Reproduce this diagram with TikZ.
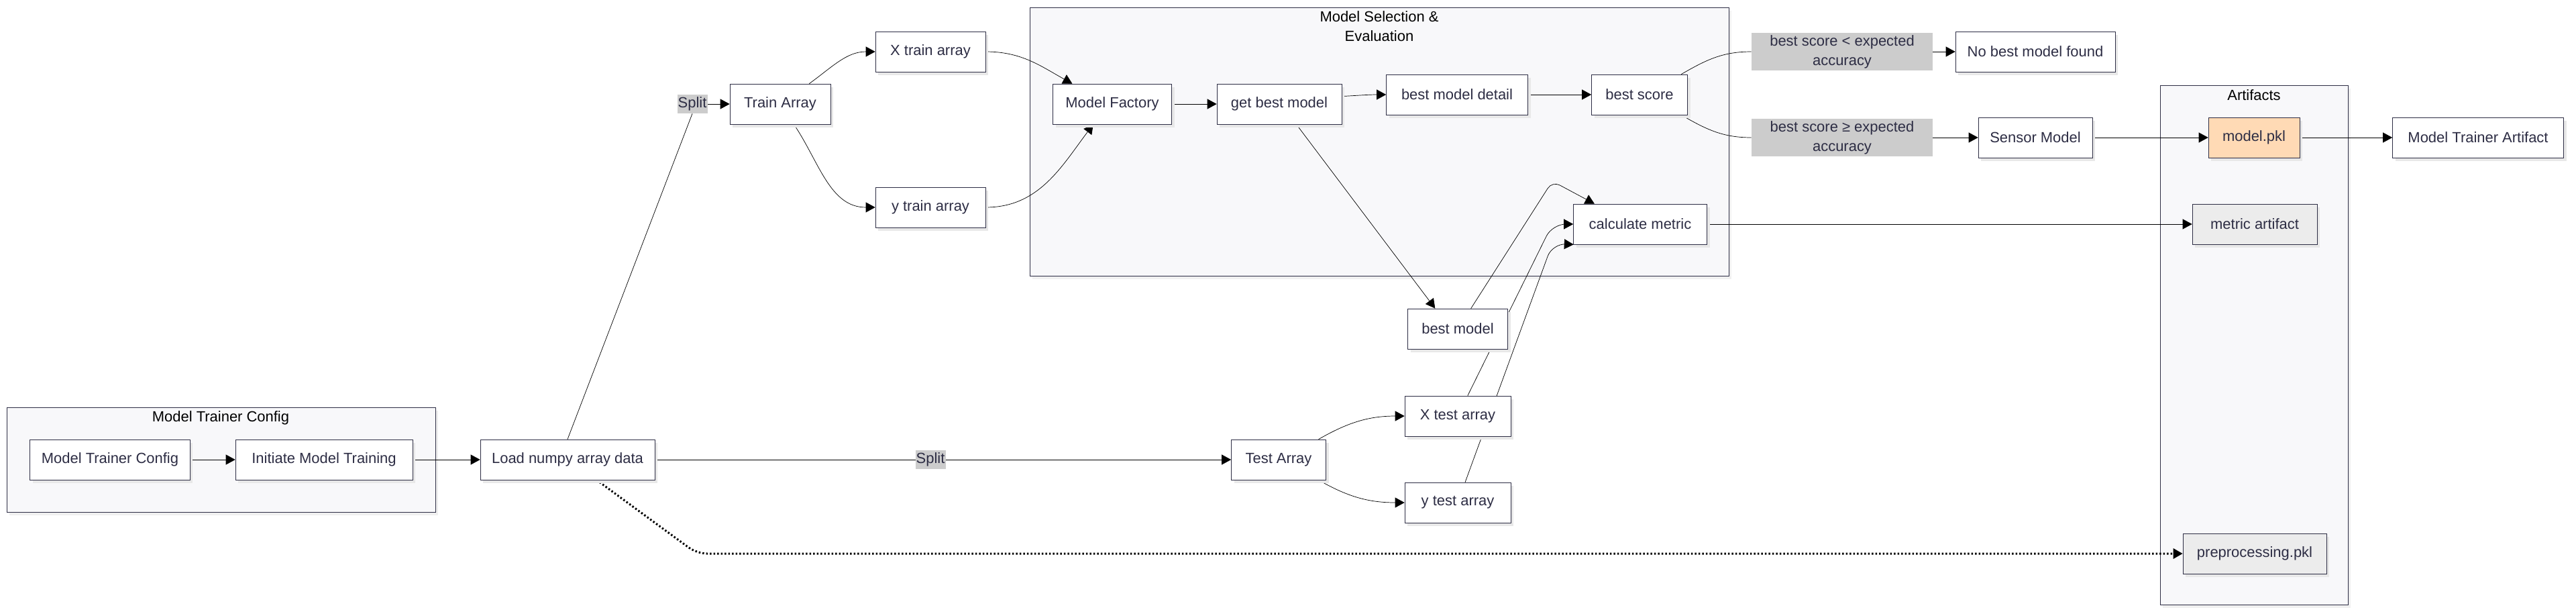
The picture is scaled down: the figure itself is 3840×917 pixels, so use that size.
\documentclass[tikz,border=0pt]{standalone}
\usepackage{fontspec}
\setmainfont{Liberation Sans}
\usetikzlibrary{arrows.meta,shadows}
\definecolor{boxline}{RGB}{45,45,68}
\definecolor{boxtext}{RGB}{45,45,68}
\definecolor{groupfill}{RGB}{248,248,250}
\definecolor{labelgray}{RGB}{204,204,204}
\definecolor{artgray}{RGB}{236,236,236}
\definecolor{peach}{RGB}{255,218,181}
\pgfdeclarelayer{clusters}
\pgfdeclarelayer{edges}
\pgfsetlayers{clusters,edges,main}
\def\boxh{1.2cm}

\begin{document}
\begin{tikzpicture}[x=0.02cm, y=-0.02cm, line width=2.2pt, >={Triangle[length=0.28cm,width=0.3cm]}, font=\fontsize{12.5pt}{16.5pt}\selectfont]
    \tikzstyle{box}=[draw=boxline, fill=white, text=boxtext, minimum height=\boxh, inner sep=0pt, drop shadow={shadow xshift=0.08cm, shadow yshift=-0.1cm, fill=black!9, opacity=1}]
    \tikzstyle{artbox}=[box, fill=artgray]
    \tikzstyle{pklbox}=[box, fill=peach]
    \tikzstyle{group}=[draw=boxline, fill=groupfill, inner sep=0pt, drop shadow={shadow xshift=0.08cm, shadow yshift=-0.1cm, fill=black!6, opacity=1}]
    \tikzstyle{title}=[text=black, align=center, inner sep=0pt]
    \tikzstyle{lbl}=[fill=labelgray, text=boxtext, align=center, inner sep=0pt]
    \tikzstyle{dots}=[line width=0.06cm, dash pattern=on 0.05cm off 0.06cm]

    \useasboundingbox (0,0) rectangle (3840,917);

    % Draw the groups
    \begin{pgfonlayer}{clusters}
        \node[group, minimum width=12.78cm, minimum height=3.12cm] (cfg) at (329.5,685) {};
        \node[group, minimum width=20.84cm, minimum height=8cm] (sel) at (2056,211) {};
        \node[group, minimum width=5.6cm, minimum height=15.48cm] (art) at (3360,514) {};
    \end{pgfonlayer}
    \node[title] (cfgT) at (329,623) {Model Trainer Config};
    \node[title] (selT) at (2056,39) {Model Selection \&\\Evaluation};
    \node[title] (artT) at (3360,142) {Artifacts};

    % Draw the config and data nodes
    \node[box, minimum width=4.78cm] (mtc) at (164,685) {Model Trainer Config};
    \node[box, minimum width=5.28cm] (init) at (483,685) {Initiate Model Training};
    \node[box, minimum width=5.2cm] (load) at (846,685) {Load numpy array data};
    \node[box, minimum width=3cm] (train) at (1163,155) {Train Array};
    \node[box, minimum width=3.28cm] (xtrain) at (1387,77) {X train array};
    \node[box, minimum width=3.28cm] (ytrain) at (1387,309) {y train array};
    \node[box, minimum width=2.82cm] (testarr) at (1906,685) {Test Array};
    \node[box, minimum width=3.16cm] (xtest) at (2173,620) {X test array};
    \node[box, minimum width=3.16cm] (ytest) at (2173,749) {y test array};

    % Draw the model selection nodes
    \node[box, minimum width=3.54cm] (factory) at (1658,155) {Model Factory};
    \node[box, minimum width=3.72cm] (getbest) at (1907,155) {get best model};
    \node[box, minimum width=4.22cm] (detail) at (2172,141) {best model detail};
    \node[box, minimum width=2.86cm] (score) at (2444,141) {best score};
    \node[box, minimum width=3.98cm] (calc) at (2445,334) {calculate metric};
    \node[box, minimum width=2.98cm] (bestmodel) at (2173,490) {best model};

    % Draw the result nodes
    \node[box, minimum width=4.76cm] (nobest) at (3034,77) {No best model found};
    \node[box, minimum width=3.4cm] (sensor) at (3034,205) {Sensor Model};
    \node[pklbox, minimum width=2.72cm] (pkl) at (3360,205) {model.pkl};
    \node[artbox, minimum width=3.72cm] (metricart) at (3361,334) {metric artifact};
    \node[artbox, minimum width=4.28cm] (prep) at (3361,825) {preprocessing.pkl};
    \node[box, minimum width=5.1cm] (mta) at (3694,205) {Model Trainer Artifact};

    % Edge labels
    \node[lbl, minimum width=0.9cm, minimum height=0.56cm] (splitA) at (1032,155) {Split};
    \node[lbl, minimum width=0.9cm, minimum height=0.56cm] (splitB) at (1387,685) {Split};
    \node[lbl, minimum width=5.4cm, minimum height=1.12cm] (lowlbl) at (2746,77) {best score < expected\\accuracy};
    \node[lbl, minimum width=5.4cm, minimum height=1.12cm] (highlbl) at (2746,205) {best score ≥ expected\\accuracy};

    % Bend points
    \coordinate (bendA) at (2314,270);
    \coordinate (bendB) at (2314,334);
    \coordinate (bendC) at (2314,363);
    \coordinate (bendD) at (1039,825);

    \begin{pgfonlayer}{edges}
        % Connect the config nodes
        \draw[->] (mtc) -- (init);
        \draw[->] (init) -- (load);

        % Split the data
        \draw (load.north) -- (splitA.south);
        \draw[->] (splitA.east) -- (train.west);
        \draw[->] (load) -- (testarr);
        \draw[->] (train.35) to[out=36,in=180] (xtrain.west);
        \draw[->] (train.-56) to[out=-56,in=180] (ytrain.west);
        \draw[->] (testarr.27) to[out=30,in=180] (xtest.west);
        \draw[->] (testarr.-27) to[out=-30,in=180] (ytest.west);

        % Model selection
        \draw[->] (xtrain.east) to[out=0,in=151] (factory.153);
        \draw[->] (ytrain.east) to[out=0,in=-127] (factory.-133);
        \draw[->] (factory) -- (getbest);
        \draw[->] (getbest.7) to[out=3,in=180] (detail.west);
        \draw[->] (detail) -- (score);
        \draw (score.26) to[out=30,in=180] (lowlbl.west);
        \draw[->] (lowlbl) -- (nobest);
        \draw (score.-26) to[out=-30,in=180] (highlbl.west);
        \draw[->] (highlbl) -- (sensor);
        \draw[->] (sensor) -- (pkl);
        \draw[->] (pkl) -- (mta);

        % Evaluation
        \draw[->] (getbest.-50) -- (bestmodel.138);
        \draw[->, rounded corners=0.25cm] (bestmodel.57) -- (bendA) -- (calc.156);
        \draw[->, rounded corners=0.4cm] (xtest.64) -- (bendB) -- (calc.west);
        \draw[->, rounded corners=0.4cm] (ytest.70) -- (bendC) -- (calc.-163);
        \draw[->] (calc) -- (metricart);

        % Preprocessing object
        \draw[->, dots, rounded corners=0.3cm] (load.-35) -- (bendD) -- (prep.west);
    \end{pgfonlayer}
\end{tikzpicture}
\end{document}
